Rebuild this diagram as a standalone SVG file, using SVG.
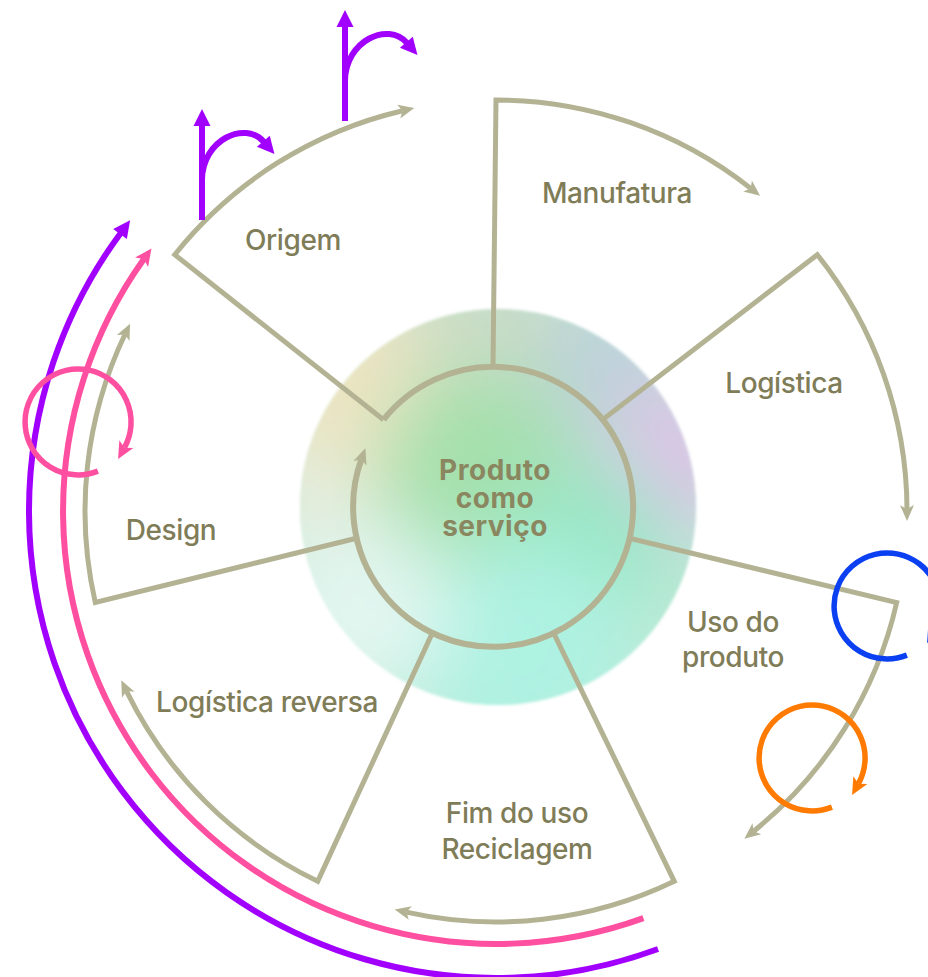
<svg xmlns="http://www.w3.org/2000/svg" width="928" height="977" viewBox="0 0 928 977">
  <style>
    .wheel { fill: none; stroke: #b3b394; stroke-width: 5; stroke-linejoin: miter; marker-end: url(#ahGrey); }
    .ring { fill: none; stroke: #b3b394; stroke-width: 6; marker-end: url(#ahGrey); }
    .label { font-family: Inter, "Liberation Sans", sans-serif; font-size: 28px; font-weight: 500; fill: #7f7c58; text-anchor: middle; letter-spacing: -0.4px; }
    .core { font-family: Inter, "Liberation Sans", sans-serif; font-size: 28px; font-weight: 700; fill: #8a8660; text-anchor: middle; letter-spacing: 0.5px; }
    .purple { fill: none; stroke: #a100ff; stroke-width: 6; }
    .pink { fill: none; stroke: #ff4fa0; stroke-width: 6; }
    .loop { fill: none; stroke-width: 5.5; }
  </style>
  <defs>
    <marker id="ahGrey" markerUnits="userSpaceOnUse" viewBox="-5 -8 20 16" markerWidth="20" markerHeight="16" refX="0" refY="0" orient="auto">
      <path d="M-4,-7 L12,0 L-4,7 L0,0 z" fill="#b3b394"/>
    </marker>
    <marker id="ahPurple" markerUnits="userSpaceOnUse" viewBox="-2 -10 20 20" markerWidth="20" markerHeight="20" refX="1" refY="0" orient="auto">
      <path d="M0,-8.5 L17,0 L0,8.5 z" fill="#a100ff"/>
    </marker>
    <marker id="ahPink" markerUnits="userSpaceOnUse" viewBox="-5 -9 20 18" markerWidth="20" markerHeight="18" refX="0" refY="0" orient="auto">
      <path d="M-4,-8 L13,0 L-4,8 L0,0 z" fill="#ff4fa0"/>
    </marker>
    <marker id="ahBlue" markerUnits="userSpaceOnUse" viewBox="-5 -9 20 18" markerWidth="20" markerHeight="18" refX="0" refY="0" orient="auto">
      <path d="M-4,-8 L13,0 L-4,8 L0,0 z" fill="#0a3ff2"/>
    </marker>
    <marker id="ahOrange" markerUnits="userSpaceOnUse" viewBox="-5 -9 20 18" markerWidth="20" markerHeight="18" refX="0" refY="0" orient="auto">
      <path d="M-4,-8 L13,0 L-4,8 L0,0 z" fill="#ff7a00"/>
    </marker>
    <clipPath id="blobClip"><circle cx="498" cy="507" r="198"/></clipPath>
    <filter id="haze" x="-50%" y="-50%" width="200%" height="200%"><feGaussianBlur stdDeviation="38"/></filter>
    <filter id="edge" x="-10%" y="-10%" width="120%" height="120%"><feGaussianBlur stdDeviation="1.5"/></filter>
    <!-- open loop with arrowhead, centred on the origin -->
    <path id="loopPath" d="M19.9,49.1 A53,53 0 1 1 46.4,25.7"/>
  </defs>

  <!-- soft coloured disc behind the centre -->
  <g id="blob" filter="url(#edge)">
    <g clip-path="url(#blobClip)">
      <rect x="290" y="300" width="420" height="420" fill="#bde9d6"/>
      <g filter="url(#haze)">
        <circle cx="360" cy="390" r="110" fill="#ece4c2"/>
        <circle cx="495" cy="330" r="80" fill="#cadcc6"/>
        <circle cx="610" cy="360" r="70" fill="#bcd2da"/>
        <circle cx="675" cy="460" r="80" fill="#dcc4e6"/>
        <circle cx="480" cy="470" r="100" fill="#a4e0ac"/>
        <circle cx="590" cy="540" r="80" fill="#98e6c4"/>
        <circle cx="520" cy="650" r="110" fill="#aef2e2"/>
        <circle cx="360" cy="610" r="90" fill="#e2f6f0"/>
        <circle cx="305" cy="500" r="50" fill="#e8eee0"/>
      </g>
    </g>
  </g>

  <!-- wheel of seven stages -->
  <g id="connectors">
    <path id="ring" class="ring" d="M383.5,419.7 A140,140 0 1 1 361.3,459.6"/>
    <path class="wheel" d="M493,367 L496,100 A411,411 0 0 1 750.7,188.4"/>
    <path class="wheel" d="M602.5,419.7 L817.3,254.7 A411,411 0 0 1 907,509.1"/>
    <path class="wheel" d="M629.5,538.2 L896.7,602.5 A411,411 0 0 1 753.7,831.2"/>
    <path class="wheel" d="M553.7,633.1 L674.3,881.3 A411,411 0 0 1 406.4,912.1"/>
    <path class="wheel" d="M432.3,633.1 L317.7,881.3 A411,411 0 0 1 126.5,691.1"/>
    <path class="wheel" d="M356.5,538.2 L95.3,602.5 A411,411 0 0 1 124.9,334.5"/>
    <path class="wheel" d="M383.5,419.7 L174.7,254.7 A411,411 0 0 1 402.6,110.7"/>

    <!-- outer return loops -->
    <path class="purple" d="M658,949 A467,467 0 0 1 120.6,233.2" marker-end="url(#ahPurple)"/>
    <path class="pink" d="M643.4,918.1 A433,433 0 0 1 143.9,259" marker-end="url(#ahPink)"/>

    <!-- branching arrows at the origin -->
    <g id="branch1">
      <path class="purple" d="M202,220 L202,125" marker-end="url(#ahPurple)"/>
      <path class="purple" d="M202,180 C202,140 245,120 264,142" marker-end="url(#ahPurple)"/>
    </g>
    <g id="branch2" transform="translate(143,-99)">
      <path class="purple" d="M202,220 L202,125" marker-end="url(#ahPurple)"/>
      <path class="purple" d="M202,180 C202,140 245,120 264,142" marker-end="url(#ahPurple)"/>
    </g>

    <!-- small circular loops -->
    <use href="#loopPath" class="loop" transform="translate(78,422)" stroke="#ff4fa0" marker-end="url(#ahPink)"/>
    <use href="#loopPath" class="loop" transform="translate(887,606)" stroke="#0a3ff2" marker-end="url(#ahBlue)"/>
    <use href="#loopPath" class="loop" transform="translate(812,758)" stroke="#ff7a00" marker-end="url(#ahOrange)"/>
  </g>

  <g id="node-origem"><text class="label" x="293" y="250">Origem</text></g>
  <g id="node-manufatura"><text class="label" x="617" y="203">Manufatura</text></g>
  <g id="node-logistica"><text class="label" x="784" y="393">Logística</text></g>
  <g id="node-uso"><text class="label" x="733" y="632">Uso do</text><text class="label" x="733" y="667">produto</text></g>
  <g id="node-fim"><text class="label" x="517" y="823">Fim do uso</text><text class="label" x="517" y="859">Reciclagem</text></g>
  <g id="node-logistica-reversa"><text class="label" x="267" y="712">Logística reversa</text></g>
  <g id="node-design"><text class="label" x="171" y="540">Design</text></g>
  <g id="node-centro">
    <text class="core" x="495" y="480">Produto</text>
    <text class="core" x="495" y="508">como</text>
    <text class="core" x="495" y="536">serviço</text>
  </g>
</svg>
